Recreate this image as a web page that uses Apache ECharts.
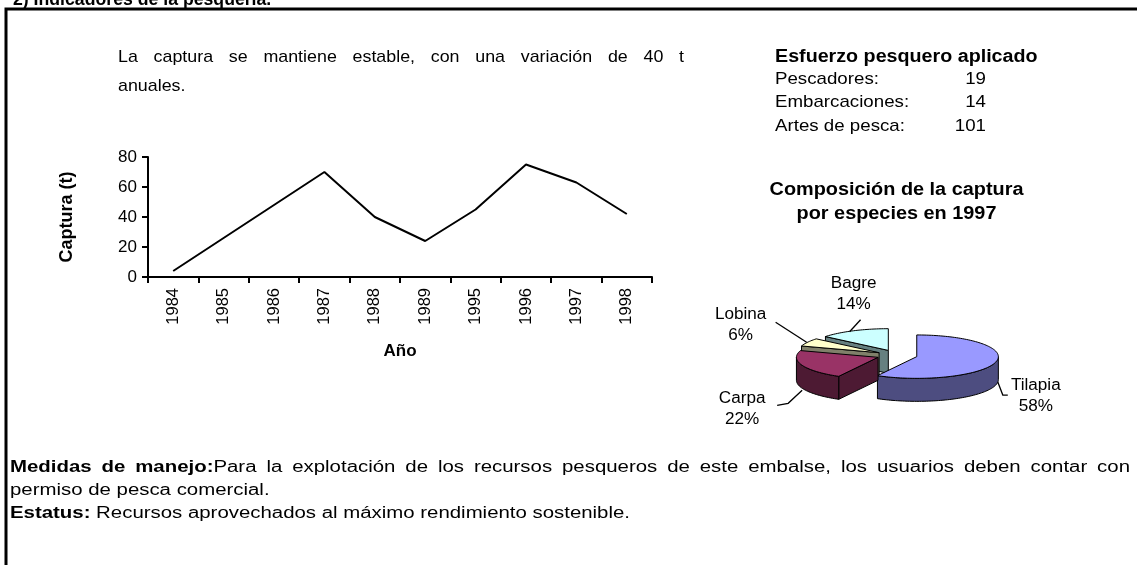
<!DOCTYPE html>
<html><head><meta charset="utf-8">
<script src="https://cdn.jsdelivr.net/npm/echarts@6/dist/echarts.min.js"></script>
<style>html,body{margin:0;padding:0;background:#fff}#c{width:1137px;height:565px}</style>
</head><body><div id="c"></div>
<script>
// ---------- DATA ----------
const years = ['1984','1985','1986','1987','1988','1989','1995','1996','1997','1998'];
const captura = [4, 26, 48, 70, 40, 24, 45, 75, 63, 42];
const yMin = 0, yMax = 80, yStep = 20;
const especies = ['Tilapia', 'Carpa', 'Lobina', 'Bagre'];
const porcentajes = [58, 22, 6, 14];
const esfuerzoLabels = ['Pescadores:', 'Embarcaciones:', 'Artes de pesca:'];
const esfuerzoValues = [19, 14, 101];
const heading = '2) Indicadores de la pesquería.';
const descLines = ['La captura se mantiene estable, con una variación de 40 t', 'anuales.'];
const esfuerzoTitle = 'Esfuerzo pesquero aplicado';
const pieTitle = ['Composición de la captura', 'por especies en 1997'];
const medidasLines = [
  [{t: 'Medidas de manejo:', b: true}, {t: 'Para la explotación de los recursos pesqueros de este embalse, los usuarios deben contar con', b: false}],
  [{t: 'permiso de pesca comercial.', b: false}],
  [{t: 'Estatus:', b: true}, {t: ' Recursos aprovechados al máximo rendimiento sostenible.', b: false}]
];

// ---------- STYLE ----------
const FONT = "'Liberation Sans', Arial, Helvetica, sans-serif";
const pieTop = ['#9999FF', '#993366', '#FFFFCC', '#CCFFFF'];
const pieSide = ['#4D4D80', '#4D1A33', '#80806A', '#668080'];
const PIE = {cx: 897, cy: 355.3, rx: 81.6, ry: 21.7, depth: 23, explode: 0.25};
const labelOff = [[40, 34], [-60, 44], [-67, -17], [0, -37]];
const leaderPts = [[[2, 20], [7, 33], [12, 33]], [[0, 25], [-14, 38], [-25, 40]], [[-1, 0], [-32, -20]], [[-4, 1], [7, -11]]];

const mctx = document.createElement('canvas').getContext('2d');
function measure(t, size, bold) {
  mctx.font = (bold ? 'bold ' : '') + size + 'px ' + FONT;
  return mctx.measureText(t).width;
}
function txt(text, x, y, size, opts) {
  opts = opts || {};
  const align = opts.align || 'left';
  return {
    type: 'text', x: x, y: y, scaleX: opts.sx || 1, silent: true,
    style: {
      text: text, fill: '#000', fontFamily: FONT, fontSize: size,
      fontWeight: opts.bold ? 'bold' : 'normal',
      align: align, textAlign: align, verticalAlign: 'middle', textVerticalAlign: 'middle'
    }
  };
}
function toWords(segs) {
  const words = []; let cur = [];
  segs.forEach(s => {
    s.t.split(' ').forEach((p, k) => {
      if (k > 0) { if (cur.length) words.push(cur); cur = []; }
      if (p) cur.push({t: p, b: s.b});
    });
  });
  if (cur.length) words.push(cur);
  return words;
}
function naturalWidth(segs, size) {
  return segs.reduce((a, s) => a + measure(s.t, size, s.b), 0);
}
function lineEls(segs, x0, x1, y, size, sx, justify) {
  const words = toWords(segs);
  const ww = words.map(w => w.reduce((a, p) => a + measure(p.t, size, p.b) * sx, 0));
  const total = ww.reduce((a, b) => a + b, 0);
  const gap = (justify && words.length > 1) ? (x1 - x0 - total) / (words.length - 1) : measure(' ', size, false) * sx;
  const out = []; let x = x0;
  words.forEach((w, i) => {
    let px = x;
    w.forEach(p => {
      out.push(txt(p.t, px, y, size, {bold: p.b, sx: sx}));
      px += measure(p.t, size, p.b) * sx;
    });
    x += ww[i] + gap;
  });
  return out;
}

// ---------- PIE (3D-looking, custom series) ----------
const tot = porcentajes.reduce((a, b) => a + b, 0);
const starts = []; { let acc = 0; porcentajes.forEach(v => { starts.push(acc / tot * 2 * Math.PI); acc += v; }); }
const mids = porcentajes.map((v, i) => starts[i] + v / tot * Math.PI);
const order = mids.map((m, i) => i).sort((a, b) => (-Math.cos(mids[a])) - (-Math.cos(mids[b])));
const rank = []; order.forEach((idx, r) => rank[idx] = r);

function renderPie(params, api) {
  const i = params.dataIndex;
  const v = api.value(0);
  const a0 = starts[i], a1 = a0 + v / tot * 2 * Math.PI, am = (a0 + a1) / 2;
  const cx = PIE.cx + PIE.explode * PIE.rx * Math.sin(am);
  const cy = PIE.cy - PIE.explode * PIE.ry * Math.cos(am);
  const D = PIE.depth;
  const P = (t, dy) => [cx + PIE.rx * Math.sin(t), cy - PIE.ry * Math.cos(t) + (dy || 0)];
  const arc = (t0, t1, dy) => {
    const n = Math.max(2, Math.ceil(Math.abs(t1 - t0) / 0.03));
    const pts = [];
    for (let k = 0; k <= n; k++) pts.push(P(t0 + (t1 - t0) * k / n, dy));
    return pts;
  };
  const z = rank[i] * 10;
  const st = {stroke: '#000', lineWidth: 1, lineJoin: 'round'};
  const ch = [];
  [[a0, a0 - Math.PI / 2], [a1, a1 + Math.PI / 2]].forEach(([t, n]) => {
    if (Math.cos(n) < -1e-6) {
      const p = P(t);
      ch.push({type: 'polygon', z2: z, shape: {points: [[cx, cy], p, [p[0], p[1] + D], [cx, cy + D]]}, style: Object.assign({fill: pieSide[i]}, st)});
    }
  });
  const w0 = Math.max(a0, Math.PI / 2), w1 = Math.min(a1, 1.5 * Math.PI);
  if (w1 > w0) {
    ch.push({type: 'polygon', z2: z + 1, shape: {points: arc(w0, w1, 0).concat(arc(w1, w0, D))}, style: Object.assign({fill: pieSide[i]}, st)});
  }
  ch.push({type: 'polygon', z2: z + 2, shape: {points: [[cx, cy]].concat(arc(a0, a1, 0))}, style: Object.assign({fill: pieTop[i]}, st)});
  const M = P(am);
  const lp = leaderPts[i].map(o => [M[0] + o[0], M[1] + o[1]]);
  ch.push({type: 'polyline', z2: 100, shape: {points: lp}, style: {stroke: '#000', lineWidth: 1.3, fill: null}});
  ch.push({type: 'text', z2: 100, x: M[0] + labelOff[i][0], y: M[1] + labelOff[i][1], scaleX: 1.07,
    style: {text: especies[i] + '\n' + v + '%', fill: '#000', fontFamily: FONT, fontSize: 16, lineHeight: 21,
      align: 'center', textAlign: 'center', verticalAlign: 'middle', textVerticalAlign: 'middle'}});
  return {type: 'group', children: ch};
}

// ---------- TEXT LAYOUT ----------
const graphics = [];
graphics.push({type: 'rect', silent: true, shape: {x: 6, y: 9, width: 1400, height: 1000}, style: {fill: 'none', stroke: '#000', lineWidth: 3}});
graphics.push(txt(heading, 13, 0, 19, {bold: true, sx: 0.93}));
// description (justified)
const dSize = 17, dSx = 1.05;
graphics.push(...lineEls([{t: descLines[0], b: false}], 118, 684, 57, dSize, dSx, true));
graphics.push(...lineEls([{t: descLines[1], b: false}], 118, 200, 86, dSize, dSx, false));
// esfuerzo
graphics.push(txt(esfuerzoTitle, 775, 57, 17.5, {bold: true, sx: 1.125}));
esfuerzoLabels.forEach((l, i) => {
  graphics.push(txt(l, 775, 79 + i * 23.5, 17, {sx: 1.1}));
  graphics.push(txt(String(esfuerzoValues[i]), 986, 79 + i * 23.5, 17, {sx: 1.1, align: 'right'}));
});
// pie title
graphics.push(txt(pieTitle[0], 896.5, 190, 17.5, {bold: true, align: 'center', sx: 1.135}));
graphics.push(txt(pieTitle[1], 896.5, 214, 17.5, {bold: true, align: 'center', sx: 1.135}));
// bottom paragraph
const bSize = 16, bX0 = 10;
const bSx = (630 - bX0) / naturalWidth(medidasLines[2], bSize);
graphics.push(...lineEls(medidasLines[0], bX0, 1130, 468, bSize, bSx, true));
graphics.push(...lineEls(medidasLines[1], bX0, 250, 491, bSize, bSx, false));
graphics.push(...lineEls(medidasLines[2], bX0, 630, 514, bSize, bSx, false));

// ---------- CHART ----------
const chart = echarts.init(document.getElementById('c'), null, {renderer: 'canvas'});
chart.setOption({
  animation: false,
  backgroundColor: '#fff',
  textStyle: {fontFamily: FONT},
  grid: {left: 148, right: 485, top: 157, bottom: 288, containLabel: false},
  xAxis: {
    type: 'category', data: years, boundaryGap: true,
    name: 'Año', nameLocation: 'middle', nameGap: 66,
    nameTextStyle: {fontWeight: 'bold', fontSize: 17, color: '#000', fontFamily: FONT},
    axisLine: {lineStyle: {color: '#000', width: 2}},
    axisTick: {show: true, alignWithLabel: false, length: 6, lineStyle: {color: '#000', width: 2}},
    axisLabel: {rotate: 90, margin: 11, fontSize: 16.5, color: '#000', fontFamily: FONT, interval: 0},
    splitLine: {show: false}
  },
  yAxis: {
    type: 'value', min: yMin, max: yMax, interval: yStep,
    name: 'Captura (t)', nameLocation: 'middle', nameGap: 72, nameRotate: 90,
    nameTextStyle: {fontWeight: 'bold', fontSize: 18, color: '#000', fontFamily: FONT},
    axisLine: {show: true, lineStyle: {color: '#000', width: 2}},
    axisTick: {show: true, length: 6, lineStyle: {color: '#000', width: 2}},
    axisLabel: {margin: 11, fontSize: 17, color: '#000', fontFamily: FONT},
    splitLine: {show: false}
  },
  series: [
    {type: 'line', data: captura, symbol: 'none', lineStyle: {color: '#000', width: 2}, itemStyle: {color: '#000'}, silent: true},
    {type: 'custom', coordinateSystem: 'none', silent: true, data: porcentajes.map(v => [v]), renderItem: renderPie}
  ],
  graphic: {elements: graphics}
});
</script></body></html>
